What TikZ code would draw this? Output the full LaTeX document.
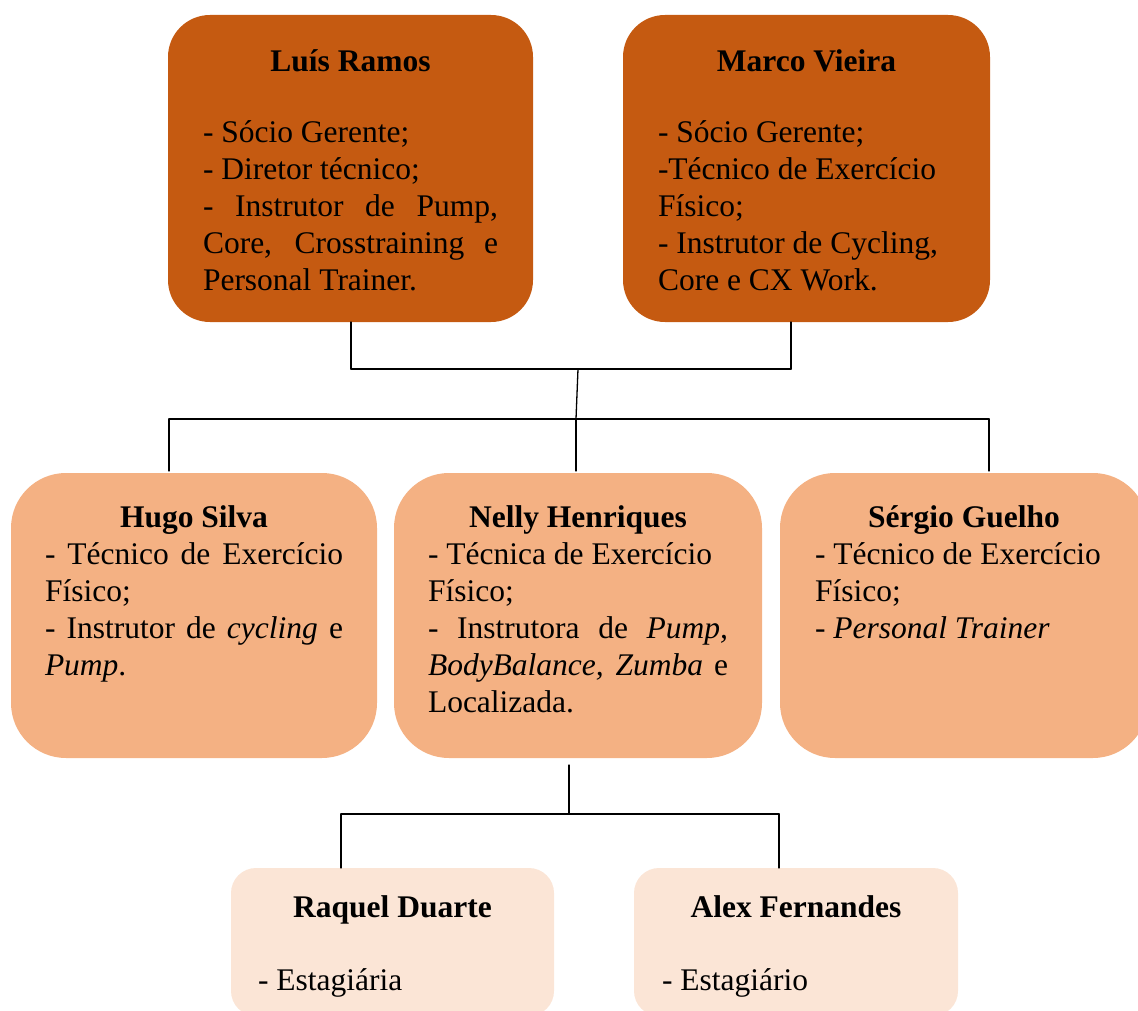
\documentclass[tikz,border=0pt]{standalone}
\usepackage{fontspec}
\setmainfont{Liberation Serif}
\hyphenpenalty=10000

\definecolor{headfill}{HTML}{C55A11}
\definecolor{stafffill}{HTML}{F4B183}
\definecolor{internfill}{HTML}{FBE5D6}

\begin{document}
\begin{tikzpicture}[%
        x = 1pt,
        y = -1pt,
        line cap = round,
        card/.style = {%
            anchor = north west,
            inner ysep = 0pt,
            outer sep = 0pt,
            align = justify,
            font = \fontsize{31.5}{37}\selectfont
        },
        head/.style = {%
            card,
            fill = headfill,
            rounded corners = 42pt,
            text height = 57pt,
            text depth = 250pt
        },
        staff/.style = {%
            card,
            fill = stafffill,
            rounded corners = 55pt,
            text height = 54pt,
            text depth = 231pt
        },
        intern/.style = {%
            card,
            fill = internfill,
            rounded corners = 25pt,
            text height = 49pt,
            text depth = 99pt
        },
        stem/.style = {line width = 1.3pt},
        bar/.style = {line width = 1.8pt}
    ]

        % Picture frame.
        \useasboundingbox (0,0) rectangle (1138,1011);
        \clip (0,0) rectangle (1138,1011);

        % Partners.
        \node[head, inner xsep = 35pt, text width = 295pt] (lr) at (168,15)
            {{\centering\textbf{Luís Ramos}\par}\vspace{34pt}%
             - Sócio Gerente;\newline
             - Diretor técnico;\newline
             - Instrutor de Pump,\linebreak
             Core, Crosstraining e\linebreak
             Personal Trainer.};
        \node[head, inner xsep = 35pt, text width = 297pt] (mv) at (623,15)
            {{\centering\textbf{Marco Vieira}\par}\vspace{34pt}%
             - Sócio Gerente;\newline
             -Técnico de Exercício\newline
             Físico;\newline
             - Instrutor de Cycling,\newline
             Core e CX Work.};

        % Staff.
        \node[staff, inner xsep = 34pt, text width = 298pt] (hs) at (11,473)
            {{\centering\textbf{Hugo Silva}\par}%
             - Técnico de Exercício\linebreak
             Físico;\newline
             - Instrutor de \textit{cycling} e\linebreak
             \textit{Pump}.};
        \node[staff, inner xsep = 34pt, text width = 300pt] (nh) at (394,473)
            {{\centering\textbf{Nelly Henriques}\par}%
             - Técnica de Exercício\newline
             Físico;\newline
             - Instrutora de \textit{Pump,}\linebreak
             \textit{BodyBalance, Zumba} e\linebreak
             Localizada.};
        \node[staff, inner xsep = 35pt, text width = 298pt] (sg) at (780,473)
            {{\centering\textbf{Sérgio Guelho}\par}%
             - Técnico de Exercício\newline
             Físico;\newline
             - \textit{Personal Trainer}};

        % Interns.
        \node[intern, inner xsep = 27pt, text width = 269pt] (rd) at (231,868)
            {{\centering\textbf{Raquel Duarte}\par}\vspace{36pt}%
             - Estagiária};
        \node[intern, inner xsep = 28pt, text width = 268pt] (af) at (634,868)
            {{\centering\textbf{Alex Fernandes}\par}\vspace{36pt}%
             - Estagiário};

        % Coordinates for the joints.
        \coordinate (lrfoot) at (351,369);
        \coordinate (mvfoot) at (791,369);
        \coordinate (jtop) at (578,369);
        \coordinate (hsarm) at (169,419);
        \coordinate (jmid) at (576,419);
        \coordinate (sgarm) at (989,419);
        \coordinate (jlow) at (569,814);
        \coordinate (rdarm) at (341,814);
        \coordinate (afarm) at (779,814);

        % Connectors.
        \draw[stem] (lr.south -| lrfoot) -- (lrfoot);
        \draw[stem] (mv.south -| mvfoot) -- (mvfoot);
        \draw[bar] (lrfoot) -- (mvfoot);
        \draw[stem] (jtop) -- (jmid);
        \draw[bar] (hsarm) -- (sgarm);
        \begin{scope}[stem, shorten >= 2pt]
            \draw (hsarm) -- (hs.north -| hsarm);
            \draw (jmid) -- (nh.north -| jmid);
            \draw (sgarm) -- (sg.north -| sgarm);
        \end{scope}
        \draw[stem, shorten <= 7pt] (nh.south -| jlow) -- (jlow);
        \draw[bar] (rdarm) -- (afarm);
        \draw[stem] (rdarm) -- (rd.north -| rdarm);
        \draw[stem] (afarm) -- (af.north -| afarm);
    \end{tikzpicture}
\end{document}
